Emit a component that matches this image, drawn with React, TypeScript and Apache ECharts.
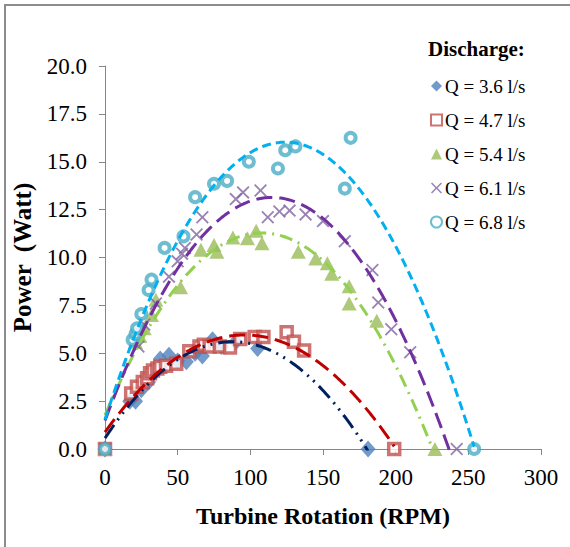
import React, { useEffect, useRef } from "react";
import * as echarts from "echarts";

// Measured turbine rotation (RPM) and power output (W) for each discharge
const rpmQ36 = [0, 17, 21, 25, 30, 35, 38, 44, 50, 56, 62, 67, 74, 80, 90, 105, 181];
const powQ36 = [0, 2.5, 2.5, 3.1, 3.5, 4.1, 4.7, 4.9, 4.6, 4.55, 5.0, 4.85, 5.7, 5.35, 5.6, 5.25, 0];

const rpmQ47 = [0, 18, 22, 26, 29, 31, 33, 36, 38, 42, 49, 58, 65, 68, 72, 79, 86, 93, 103, 109, 125, 130, 137, 199];
const powQ47 = [0, 2.9, 3.25, 3.5, 3.7, 3.95, 4.1, 4.2, 4.3, 4.35, 4.45, 5.1, 5.35, 5.45, 5.35, 5.35, 5.3, 5.75, 5.85, 5.85, 6.1, 5.6, 5.15, 0];

const rpmQ54 = [0, 21, 24, 27, 32, 35, 52, 66, 75, 77, 88, 98, 104, 108, 133, 145, 153, 156, 168, 168, 187, 227];
const powQ54 = [0, 5.6, 5.9, 6.3, 7.0, 7.8, 8.45, 10.4, 10.65, 10.3, 11.05, 11.0, 11.4, 10.75, 10.3, 9.95, 9.7, 9.15, 8.5, 7.6, 6.7, 0];

const rpmQ61 = [0, 23, 27, 35, 44, 50, 53, 55, 63, 67, 90, 95, 107, 112, 120, 127, 138, 150, 165, 184, 188, 197, 210, 242];
const powQ61 = [0, 5.35, 6.5, 7.6, 9.0, 9.8, 10.2, 10.5, 11.2, 12.1, 13.05, 13.4, 13.5, 12.1, 12.4, 12.45, 12.25, 11.9, 10.85, 9.35, 7.65, 6.25, 5.05, 0];

const rpmQ68 = [0, 19, 21, 22, 25, 30, 32, 41, 54, 62, 75, 84, 99, 119, 124, 131, 165, 169, 254];
const powQ68 = [0, 5.7, 6.0, 6.3, 7.05, 8.3, 8.85, 10.5, 11.1, 13.15, 13.85, 14.0, 15.0, 14.65, 15.6, 15.8, 13.6, 16.25, 0];

const seriesNames = ["Q = 3.6 l/s", "Q = 4.7 l/s", "Q = 5.4 l/s", "Q = 6.1 l/s", "Q = 6.8 l/s"];

const xTicks = { min: 0, max: 300, step: 50 };
const yTicks = { min: 0, max: 20, step: 2.5 };

const SERIF = "'Liberation Serif', 'Times New Roman', serif";

// Least-squares polynomial fit (trendline), returns coefficients c0..cN
function polyfit(xs: number[], ys: number[], degree: number): number[] {
  const n = degree + 1;
  const A: number[][] = Array.from({ length: n }, () => new Array(n + 1).fill(0));
  for (let k = 0; k < xs.length; k++) {
    const p: number[] = [];
    for (let i = 0; i <= 2 * degree; i++) p.push(Math.pow(xs[k], i));
    for (let r = 0; r < n; r++) {
      for (let c = 0; c < n; c++) A[r][c] += p[r + c];
      A[r][n] += ys[k] * p[r];
    }
  }
  for (let col = 0; col < n; col++) {
    let piv = col;
    for (let r = col + 1; r < n; r++) if (Math.abs(A[r][col]) > Math.abs(A[piv][col])) piv = r;
    const tmp = A[col];
    A[col] = A[piv];
    A[piv] = tmp;
    for (let r = 0; r < n; r++) {
      if (r === col) continue;
      const f = A[r][col] / A[col][col];
      for (let c = col; c <= n; c++) A[r][c] -= f * A[col][c];
    }
  }
  return A.map((row, i) => row[n] / row[i]);
}

function trendPoints(xs: number[], ys: number[], degree: number): number[][] {
  const coef = polyfit(xs, ys, degree);
  const xMax = Math.max(...xs);
  const pts: number[][] = [];
  for (let x = 0; x <= xMax; x += 1) {
    pts.push([x, coef.reduce((s, c, i) => s + c * Math.pow(x, i), 0)]);
  }
  pts.push([xMax, coef.reduce((s, c, i) => s + c * Math.pow(xMax, i), 0)]);
  return pts;
}

const zip = (xs: number[], ys: number[]) => xs.map((x, i) => [x, ys[i]]);

const CROSS = "path://M1,0 L5,4 L9,0 L10,1 L6,5 L10,9 L9,10 L5,6 L1,10 L0,9 L4,5 L0,1 Z";

export default function App() {
  const ref = useRef<HTMLDivElement>(null);

  useEffect(() => {
    if (!ref.current) return;
    const chart = echarts.init(ref.current, undefined, { renderer: "svg" });

    const groups = [
      { name: seriesNames[0], xs: rpmQ36, ys: powQ36, symbol: "diamond", size: [15, 17],
        itemStyle: { color: "#4F81BD" }, line: "#002060", dash: [16, 6, 2, 6, 2, 6] },
      { name: seriesNames[1], xs: rpmQ47, ys: powQ47, symbol: "rect", size: 11,
        itemStyle: { color: "#ffffff", borderColor: "#C0504D", borderWidth: 3.5 }, line: "#C00000", dash: [16, 7] },
      { name: seriesNames[2], xs: rpmQ54, ys: powQ54, symbol: "triangle", size: [15, 14],
        itemStyle: { color: "#9BBB59" }, line: "#92D050", dash: [13, 6, 2, 6] },
      { name: seriesNames[3], xs: rpmQ61, ys: powQ61, symbol: CROSS, size: 13,
        itemStyle: { color: "#8064A2" }, line: "#7030A0", dash: [16, 7] },
      { name: seriesNames[4], xs: rpmQ68, ys: powQ68, symbol: "circle", size: 10,
        itemStyle: { color: "#ffffff", borderColor: "#4BACC6", borderWidth: 4 }, line: "#00B0F0", dash: [9, 5] },
    ];

    const scatterSeries = groups.map((g) => ({
      type: "scatter",
      name: g.name,
      data: zip(g.xs, g.ys),
      symbol: g.symbol,
      symbolSize: g.size,
      itemStyle: g.itemStyle,
      z: 2,
    }));

    const trendSeries = groups.map((g) => ({
      type: "line",
      name: g.name + " trend",
      data: trendPoints(g.xs, g.ys, 2),
      showSymbol: false,
      symbol: "none",
      smooth: false,
      lineStyle: { color: g.line, width: 3, type: g.dash },
      silent: true,
      z: 3,
    }));

    const axisGray = "#868686";

    chart.setOption({
      animation: false,
      backgroundColor: "#ffffff",
      title: {
        text: "Discharge:",
        left: 428,
        top: 38,
        padding: 0,
        textStyle: { fontFamily: SERIF, fontSize: 21, fontWeight: "bold", color: "#000" },
      },
      legend: {
        data: seriesNames,
        orient: "vertical",
        left: 430,
        top: 76,
        padding: 0,
        itemWidth: 11,
        itemHeight: 11,
        itemGap: 14,
        textStyle: { fontFamily: SERIF, fontSize: 19, color: "#000", lineHeight: 20, padding: [0, 0, 0, -2] },
      },
      grid: { left: 105, right: 29, top: 66, bottom: 98 },
      xAxis: {
        type: "value",
        min: xTicks.min,
        max: xTicks.max,
        interval: xTicks.step,
        name: "Turbine Rotation (RPM)",
        nameLocation: "middle",
        nameGap: 55,
        nameTextStyle: { fontFamily: SERIF, fontSize: 24, fontWeight: "bold", color: "#000" },
        axisLine: { lineStyle: { color: axisGray, width: 1 } },
        axisTick: { show: true, length: 6, lineStyle: { color: axisGray } },
        axisLabel: { fontFamily: SERIF, fontSize: 23, color: "#000", margin: 17 },
        splitLine: { show: false },
      },
      yAxis: {
        type: "value",
        min: yTicks.min,
        max: yTicks.max,
        interval: yTicks.step,
        name: "Power  (Watt)",
        nameLocation: "middle",
        nameRotate: 90,
        nameGap: 70,
        nameTextStyle: { fontFamily: SERIF, fontSize: 25, fontWeight: "bold", color: "#000" },
        axisLine: { show: true, lineStyle: { color: axisGray, width: 1 } },
        axisTick: { show: true, length: 6, lineStyle: { color: axisGray } },
        axisLabel: {
          fontFamily: SERIF,
          fontSize: 23,
          color: "#000",
          margin: 18,
          formatter: (v: number) => v.toFixed(1),
        },
        splitLine: { show: false },
      },
      graphic: [
        {
          type: "rect",
          shape: { x: 5, y: 5, width: 800, height: 800 },
          style: { fill: "none", stroke: "#8c8c8c", lineWidth: 2 },
          silent: true,
        },
      ],
      series: [...scatterSeries, ...trendSeries],
    });

    return () => chart.dispose();
  }, []);

  return <div ref={ref} style={{ position: "fixed", left: 0, top: 0, width: 570, height: 547 }} />;
}
